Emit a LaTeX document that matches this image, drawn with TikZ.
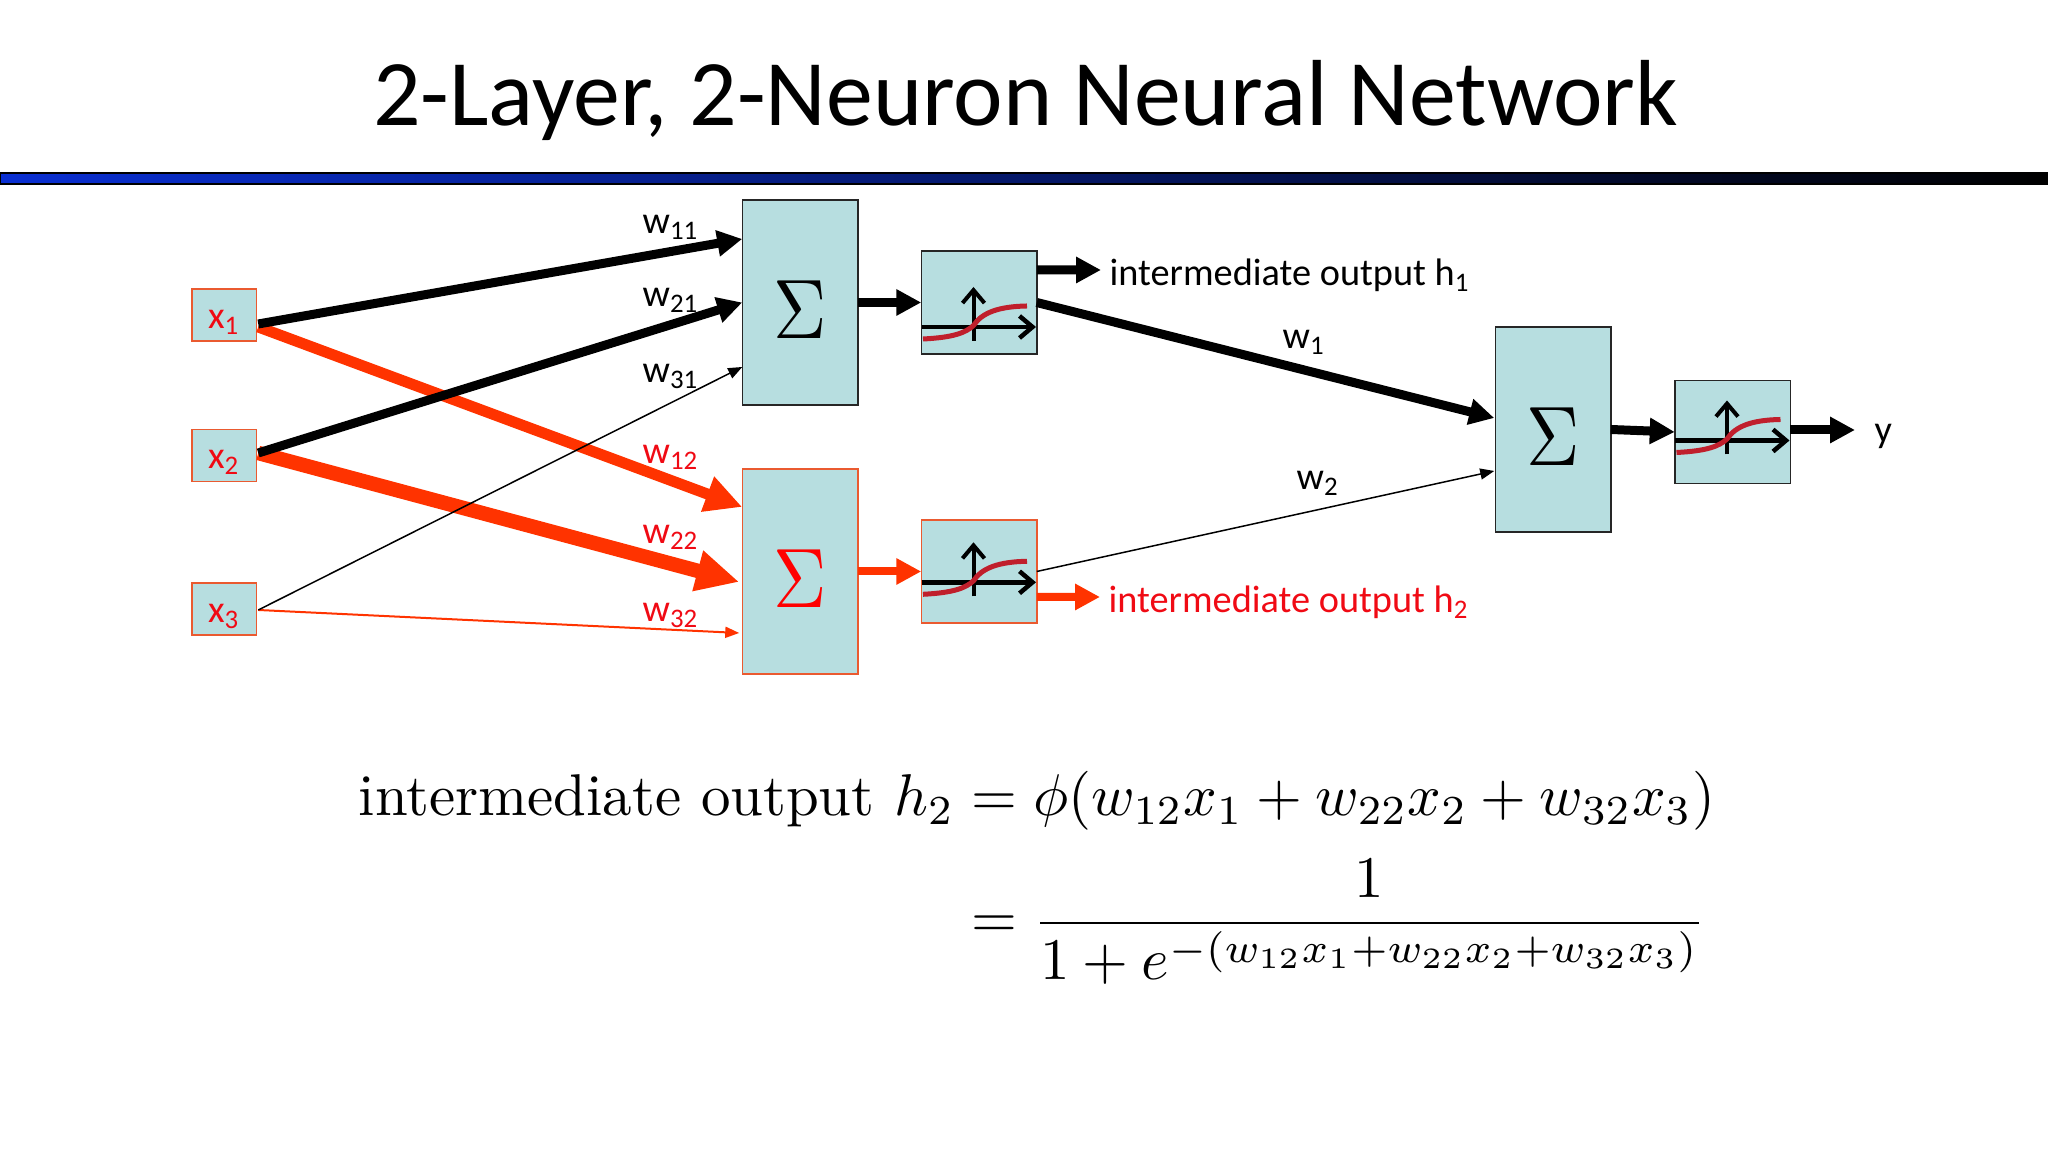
\documentclass[tikz,border=0pt]{standalone}
\usepackage{amsmath}
\usepackage{fontspec}
\newfontfamily\calibri{Carlito}
\usetikzlibrary{arrows.meta}
\definecolor{boxfill}{HTML}{B7DEE0}
\definecolor{hotred}{HTML}{FF3300}
\definecolor{labelred}{HTML}{F00A14}
\definecolor{edgered}{HTML}{EA5A30}
\definecolor{curvered}{HTML}{C01F2C}
\definecolor{barblue}{HTML}{0A2FD2}
\tikzset{
    blackbox/.style={draw=black!85, line width=0.015cm, fill=boxfill, inner sep=0pt, outer sep=0pt},
    redbox/.style={draw=edgered, line width=0.015cm, fill=boxfill, inner sep=0pt, outer sep=0pt},
    inbox/.style={redbox, minimum width=0.645cm, minimum height=0.52cm, text=labelred, font=\calibri\fontsize{10.9}{12}\selectfont, text height=0.27cm, text depth=0pt},
    sumbox/.style={minimum width=1.155cm, minimum height=2.05cm},
    phibox/.style={minimum width=1.155cm, minimum height=1.03cm},
    lbl/.style={anchor=base west, inner sep=0pt, font=\calibri\fontsize{10.9}{12}\selectfont},
    heavy/.style={line width=0.09cm, -{Triangle[length=0.25cm,width=0.25cm]}},
    heavyred/.style={hotred, line width=0.11cm, -{Triangle[length=0.37cm,width=0.35cm]}},
    heaviest/.style={hotred, line width=0.145cm, -{Triangle[length=0.43cm,width=0.39cm]}},
    shortred/.style={hotred, line width=0.08cm, -{Triangle[length=0.25cm,width=0.25cm]}},
    thin arrow/.style={line width=0.015cm, -{Triangle[length=0.14cm,width=0.11cm]}},
}
\newcommand{\bigsum}{\rule{0pt}{0.72cm}\scalebox{2.1}[2.4]{$\Sigma$}}
\begin{document}
\begin{tikzpicture}
\useasboundingbox (0,0) rectangle (20.48,11.52);
\node[anchor=base, inner sep=0pt, font=\calibri\fontsize{26.7}{30}\selectfont] (title) at (10.255,10.26) {2-Layer, 2-Neuron Neural Network};
\shade[left color=barblue, right color=black, draw=black, line width=0.015cm] (0,9.79) rectangle (20.48,9.68);
%
\node[inbox] (xone) at (2.24,8.37) {x\textsubscript{1}};
\node[inbox] (xtwo) at (2.24,6.965) {x\textsubscript{2}};
\node[inbox] (xthree) at (2.24,5.43) {x\textsubscript{3}};
%
\node[blackbox, sumbox] (sigmaone) at (8.0,8.495) {\bigsum};
\node[redbox, sumbox, text=red] (sigmatwo) at (8.0,5.805) {\bigsum};
\node[blackbox, sumbox] (sigmathree) at (15.53,7.225) {\bigsum};
\node[blackbox, phibox] (phione) at (9.79,8.495) {};
\node[redbox, phibox] (phitwo) at (9.79,5.805) {};
\node[blackbox, phibox] (phithree) at (17.325,7.20) {};
%
\foreach \nm/\up in {phione/0,phitwo/0.137,phithree/0.16} {
    \begin{scope}[shift={(\nm.center)}, yshift=\up cm]
    \draw[line width=0.045cm, -{Straight Barb[length=0.13cm,width=0.22cm]}] (-0.575,-0.245) -- (0.57,-0.245);
    \draw[line width=0.04cm, -{Straight Barb[length=0.13cm,width=0.22cm]}] (-0.055,-0.385) -- (-0.055,0.155);
    \draw[curvered, line width=0.05cm] (-0.56,-0.365) .. controls (-0.25,-0.35) and (-0.13,-0.30) .. (-0.055,-0.23) .. controls (0.03,-0.10) and (0.2,-0.04) .. (0.48,-0.035);
    \end{scope}
}
%
\coordinate (outone) at (11.01,8.82);
\coordinate (outtwo) at (11.0,5.55);
\coordinate (outy) at (18.55,7.22);
%
\draw[heavyred] ([yshift=-0.12cm,xshift=0.02cm]xone.east) -- ([yshift=0.645cm]sigmatwo.west);
\draw[heaviest] ([yshift=0.025cm,xshift=0.02cm]xtwo.east) -- ([yshift=-0.105cm,xshift=-0.03cm]sigmatwo.west);
\draw[thin arrow, hotred, line width=0.02cm] ([yshift=-0.01cm,xshift=0.02cm]xthree.east) -- ([yshift=-0.615cm,xshift=-0.03cm]sigmatwo.west);
\draw[heavy] ([yshift=-0.09cm,xshift=0.02cm]xone.east) -- ([yshift=0.635cm]sigmaone.west);
\draw[heavy] ([yshift=0.025cm,xshift=0.02cm]xtwo.east) -- (sigmaone.west);
\draw[thin arrow] ([yshift=-0.01cm,xshift=0.02cm]xthree.east) -- ([yshift=-0.645cm]sigmaone.west);
%
\draw[heavy] (sigmaone.east) -- (phione.west);
\draw[shortred] (sigmatwo.east) -- (phitwo.west);
\draw[heavy] ([yshift=0.325cm]phione.east) -- (outone);
\draw[shortred] ([yshift=-0.255cm]phitwo.east) -- (outtwo);
\draw[heavy] (phione.east) -- ([yshift=0.115cm,xshift=-0.01cm]sigmathree.west);
\draw[thin arrow] (phitwo.east) -- ([yshift=-0.415cm,xshift=-0.01cm]sigmathree.west);
\draw[heavy] (sigmathree.east) -- (phithree.west);
\draw[heavy] ([yshift=0.02cm]phithree.east) -- (outy);
%
\node[lbl] (wone) at (6.42,9.18) {w\textsubscript{11}};
\node[lbl] (wtwo) at (6.42,8.45) {w\textsubscript{21}};
\node[lbl] (wthree) at (6.42,7.69) {w\textsubscript{31}};
\node[lbl, text=labelred] (wfour) at (6.42,6.88) {w\textsubscript{12}};
\node[lbl, text=labelred] (wfive) at (6.42,6.08) {w\textsubscript{22}};
\node[lbl, text=labelred] (wsix) at (6.42,5.30) {w\textsubscript{32}};
\node[lbl] (wseven) at (12.82,8.035) {w\textsubscript{1}};
\node[lbl] (weight) at (12.96,6.625) {w\textsubscript{2}};
\node[lbl] (hone) at (11.09,8.665) {intermediate output h\textsubscript{1}};
\node[lbl, text=labelred] (htwo) at (11.08,5.395) {intermediate output h\textsubscript{2}};
\node[lbl] (yout) at (18.74,7.095) {y};
%
\node[anchor=north west, inner sep=0pt] (formula) at (3.58,3.87) {\scalebox{1.677}{$\begin{aligned}
\text{intermediate output}~h_2 &= \phi(w_{12}x_1+w_{22}x_2+w_{32}x_3)\\
&= \frac{1}{1+e^{-(w_{12}x_1+w_{22}x_2+w_{32}x_3)}}
\end{aligned}$}};
\end{tikzpicture}
\end{document}
